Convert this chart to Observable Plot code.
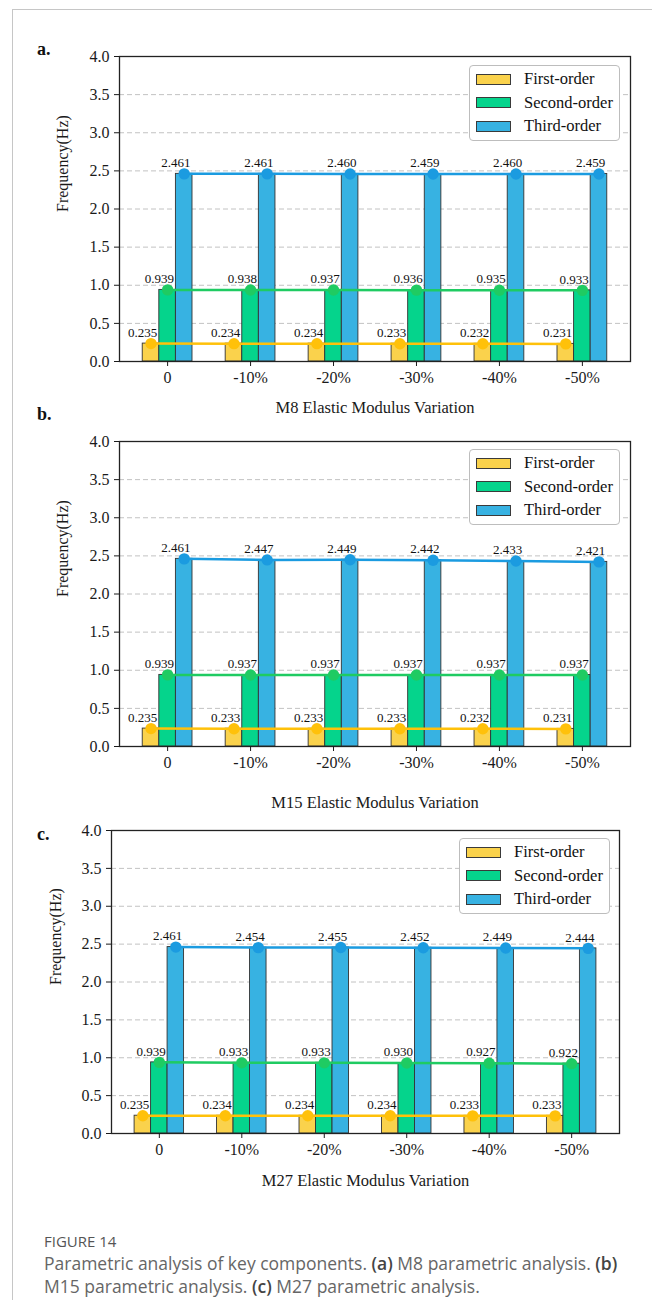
<!DOCTYPE html>
<html><head><meta charset="utf-8">
<script src="https://cdn.jsdelivr.net/npm/d3@7"></script>
<script src="https://cdn.jsdelivr.net/npm/@observablehq/plot@0.6"></script>
<style>
body{margin:0;background:#fff;width:652px;height:1300px;position:relative;overflow:hidden;}
.pageframe{position:absolute;left:12px;top:9px;width:700px;height:1400px;border-top:1.5px solid #c6c6c6;border-left:1.5px solid #c6c6c6;}
.panel{position:absolute;left:0;}
.plabel{position:absolute;font-weight:bold;font-size:18px;font-family:"Liberation Serif",serif;color:#111;line-height:18px;}
.legend{position:absolute;background:#fff;border:1.2px solid #bdbdbd;border-radius:4px;box-sizing:border-box;}
.legend .sw{position:absolute;left:6px;width:35px;height:11px;border:1px solid #3a3a3a;box-sizing:border-box;}
.legend .lt{position:absolute;left:54px;font-family:"Liberation Serif",serif;font-size:16.5px;color:#111;line-height:18px;white-space:nowrap;}
.fig{position:absolute;left:44px;font-family:"Open Sans",sans-serif;color:#555;}
.fig b{font-weight:600;color:#444;}
</style>
</head><body>
<div class="pageframe"></div>
<div id="root"></div>
<script>
const categories = ["0", "-10%", "-20%", "-30%", "-40%", "-50%"];
const seriesNames = ["First-order", "Second-order", "Third-order"];
const yTicks = [0, 0.5, 1, 1.5, 2, 2.5, 3, 3.5, 4];
const yLabel = "Frequency(Hz)";

const m8First  = [0.235, 0.234, 0.234, 0.233, 0.232, 0.231];
const m8Second = [0.939, 0.938, 0.937, 0.936, 0.935, 0.933];
const m8Third  = [2.461, 2.461, 2.460, 2.459, 2.460, 2.459];

const m15First  = [0.235, 0.233, 0.233, 0.233, 0.232, 0.231];
const m15Second = [0.939, 0.937, 0.937, 0.937, 0.937, 0.937];
const m15Third  = [2.461, 2.447, 2.449, 2.442, 2.433, 2.421];

const m27First  = [0.235, 0.234, 0.234, 0.234, 0.233, 0.233];
const m27Second = [0.939, 0.933, 0.933, 0.930, 0.927, 0.922];
const m27Third  = [2.461, 2.454, 2.455, 2.452, 2.449, 2.444];

const titles = ["M8 Elastic Modulus Variation", "M15 Elastic Modulus Variation", "M27 Elastic Modulus Variation"];
const letters = ["a.", "b.", "c."];

const barColors  = ["#FAD24C", "#05D48C", "#37B2E2"];
const lineColors = ["#FFC10A", "#1FCB62", "#1B9BE0"];

const layouts = [
  {left:119, right:630, top:56,  bottom:361,  titleY:412,  letterX:37, letterY:40,  lg:{x:469,y:65,w:151,h:76},  ylDx:-57},
  {left:119, right:630, top:441, bottom:746,  titleY:807,  letterX:37, letterY:405, lg:{x:469,y:449,w:151,h:76}, ylDx:-57},
  {left:111, right:619, top:830, bottom:1133, titleY:1185, letterX:37, letterY:825, lg:{x:459,y:838,w:151,h:76}, ylDx:-56}
];
const panelValues = [[m8First, m8Second, m8Third], [m15First, m15Second, m15Third], [m27First, m27Second, m27Third]];

const off = [-0.2, 0, 0.2];
const bw = 0.2;
const root = document.getElementById("root");

layouts.forEach((p, idx) => {
  const rows = [];
  panelValues[idx].forEach((arr, k) => arr.forEach((v, i) => rows.push({i, k, s: seriesNames[k], v})));
  const W = 652;
  const mt = 30;
  const mb = (p.titleY + 14) - p.bottom;
  const svgTop = p.top - mt;
  const H = p.bottom + mb - svgTop;
  const chart = Plot.plot({
    width: W, height: H,
    marginLeft: p.left, marginRight: W - p.right, marginTop: mt, marginBottom: mb,
    style: {fontFamily: "'Liberation Serif', 'Times New Roman', serif", fontSize: "16px", color: "#1a1a1a", background: "transparent", overflow: "visible"},
    x: {domain: [-0.58, 5.58]},
    y: {domain: [0, 4]},
    color: {type: "identity"},
    marks: [
      Plot.gridY(yTicks.filter(t => t > 0 && t < 4), {stroke: "#c2c2c2", strokeOpacity: 1, strokeDasharray: "5,3", strokeWidth: 1}),
      Plot.rectY(rows, {x1: d => d.i + off[d.k] - bw/2, x2: d => d.i + off[d.k] + bw/2, y1: 0, y2: "v", fill: d => barColors[d.k], stroke: "#333", strokeWidth: 0.9}),
      Plot.line(rows, {x: d => d.i + off[d.k], y: "v", z: "s", stroke: d => lineColors[d.k], strokeWidth: 2.5}),
      Plot.dot(rows, {x: d => d.i + off[d.k], y: "v", r: 5.7, fill: d => lineColors[d.k], stroke: "none"}),
      Plot.text(rows, {x: d => d.i + off[d.k] - bw/2, y: "v", text: d => d.v.toFixed(3), dy: -11, fontSize: 13, fill: "#111", lineAnchor: "middle"}),
      Plot.frame({stroke: "#222", strokeWidth: 1.3}),
      Plot.axisY({ticks: yTicks, tickFormat: d => d.toFixed(1), tickSize: 5, tickPadding: 5, label: null, fontSize: 16}),
      Plot.axisX({ticks: categories.map((c, i) => i), tickFormat: i => categories[i], tickSize: 5, tickPadding: 5, label: null, fontSize: 16}),
      Plot.text([yLabel], {frameAnchor: "left", dx: p.ylDx, dy: 3, rotate: -90, text: d => d, fontSize: 16}),
      Plot.text([titles[idx]], {frameAnchor: "bottom", dy: p.titleY - p.bottom, text: d => d, fontSize: 16.5})
    ]
  });
  const wrap = document.createElement("div");
  wrap.className = "panel";
  wrap.style.top = svgTop + "px";
  wrap.appendChild(chart);
  root.appendChild(wrap);

  const lab = document.createElement("div");
  lab.className = "plabel";
  lab.style.left = p.letterX + "px";
  lab.style.top = p.letterY + "px";
  lab.textContent = letters[idx];
  root.appendChild(lab);

  const lg = document.createElement("div");
  lg.className = "legend";
  Object.assign(lg.style, {left: p.lg.x + "px", top: p.lg.y + "px", width: p.lg.w + "px", height: p.lg.h + "px"});
  seriesNames.forEach((s, k) => {
    const cy = 13 + k * 23.5;
    const sw = document.createElement("div");
    sw.className = "sw";
    sw.style.top = (cy - 5.5) + "px";
    sw.style.background = barColors[k];
    const lt = document.createElement("div");
    lt.className = "lt";
    lt.style.top = (cy - 9) + "px";
    lt.textContent = s;
    lg.appendChild(sw); lg.appendChild(lt);
  });
  root.appendChild(lg);
});

const f1 = document.createElement("div");
f1.className = "fig";
Object.assign(f1.style, {top: "1231px", fontSize: "15px", lineHeight: "20px", color: "#555"});
f1.textContent = "FIGURE 14";
root.appendChild(f1);
const f2 = document.createElement("div");
f2.className = "fig";
Object.assign(f2.style, {top: "1252px", fontSize: "17.5px", lineHeight: "23px", color: "#666", whiteSpace: "nowrap"});
f2.innerHTML = "Parametric analysis of key components. <b>(a)</b> M8 parametric analysis. <b>(b)</b><br>M15 parametric analysis. <b>(c)</b> M27 parametric analysis.";
root.appendChild(f2);
</script>
</body></html>
